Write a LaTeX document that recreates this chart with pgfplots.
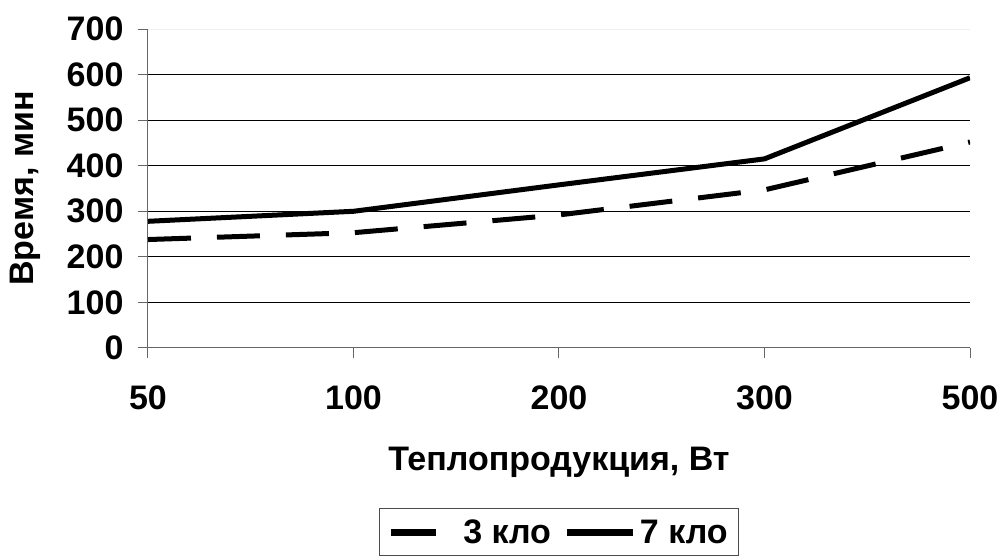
\documentclass[border=0pt]{standalone}
\usepackage{pgfplots}
\pgfplotsset{compat=1.18}
\usepackage{pgfplotstable}
\usepackage{fontspec}
\setmainfont{Liberation Sans}

% Время (мин) в зависимости от теплопродукции (Вт)
\pgfplotstableread{
x  k3   k7
0  238  278
1  253  300
2  292  358
3  347  415
4  452  593
}\data

\begin{document}
\begin{tikzpicture}
\begin{axis}[
  scale only axis,
  width=822pt, height=319pt,
  at={(0pt,0pt)}, anchor=south west,
  xmin=0, xmax=4, ymin=0, ymax=700,
  axis lines*=left,
  axis line style={draw=gray!80!black, line width=1pt},
  xtick={0,1,2,3,4},
  xticklabels={50,100,200,300,500},
  ytick={0,100,...,600},
  extra y ticks={700},
  extra y tick style={grid style={gray!12, line width=1pt}},
  tick align=outside,
  major tick length=10pt,
  tick style={draw=gray!80!black, line width=1pt},
  ymajorgrids,
  grid style={black, line width=1pt},
  /pgf/number format/assume math mode=true,
  yticklabel style={font=\fontsize{34}{38}\selectfont\bfseries, xshift=-11pt},
  xticklabel style={font=\fontsize{34}{38}\selectfont\bfseries, yshift=-24pt},
  xlabel={Теплопродукция, Вт},
  xlabel style={font=\fontsize{34}{38}\selectfont\bfseries, yshift=-31pt},
  ylabel={Время, мин},
  ylabel style={font=\fontsize{34}{38}\selectfont\bfseries, yshift=-1pt},
  legend columns=2,
  legend style={at={(0.5,-160/319)}, anchor=north,
    draw=gray!60!black, line width=1pt, inner xsep=8pt, inner ysep=8pt,
    nodes={inner sep=3pt},
    font=\fontsize{34}{38}\selectfont\bfseries,
    /tikz/every even column/.append style={column sep=10pt}},
  legend image code/.code={\draw[#1, line width=7pt] (0pt,0pt) -- (66pt,0pt);},
]
\addplot[black, line width=5pt, dash pattern=on 43pt off 26pt,
  legend image post style={dash pattern=on 45pt off 30pt}] table[x=x, y=k3] {\data};
\addlegendentry{3 кло}
\addplot[black, line width=5pt] table[x=x, y=k7] {\data};
\addlegendentry{7 кло}
\end{axis}
\pgfresetboundingbox
\path[use as bounding box] (-148pt,-208pt) rectangle (854pt,348pt);
\end{tikzpicture}
\end{document}
